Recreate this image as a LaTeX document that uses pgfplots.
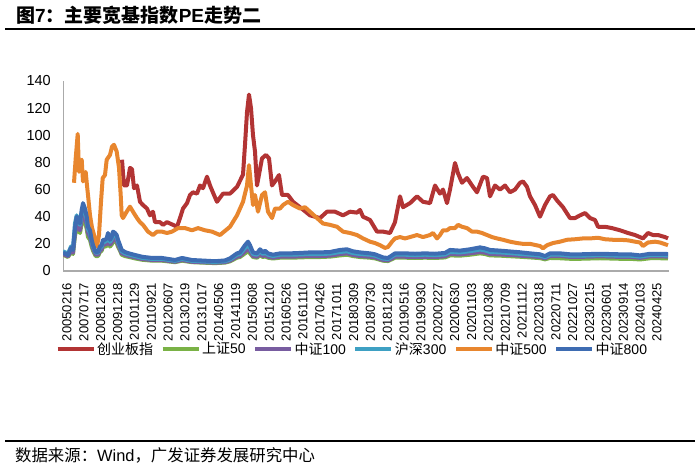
\documentclass[border=0pt]{standalone}
\usepackage{fontspec}
\setmainfont{Liberation Sans}
\newfontfamily\cjk{Noto Sans CJK SC}
\usepackage{pgfplots}
\pgfplotsset{compat=1.18}

\definecolor{cRed}{RGB}{178,52,52}
\definecolor{cGreen}{RGB}{122,178,70}
\definecolor{cPurple}{RGB}{120,92,160}
\definecolor{cTeal}{RGB}{62,160,195}
\definecolor{cOrange}{RGB}{232,134,46}
\definecolor{cBlue}{RGB}{62,108,178}
\definecolor{cAxis}{RGB}{170,170,170}

\begin{document}
\begin{tikzpicture}
\useasboundingbox (0bp,0bp) rectangle (700bp,471bp);
\node[anchor=west, inner sep=0pt, font=\fontsize{19bp}{21bp}\selectfont\bfseries] at (16bp,455.5bp) {{\cjk 图}7{\cjk ：主要宽基指数}PE{\cjk 走势二}};
\draw[line width=1.6bp] (5bp,442bp) -- (695bp,442bp);
\draw[line width=1.6bp] (5bp,30bp) -- (695bp,30bp);
\node[anchor=west, inner sep=0pt, font=\fontsize{16.4bp}{18bp}\selectfont] at (15bp,16bp) {{\cjk 数据来源：}Wind{\cjk ，广发证券发展研究中心}};

\begin{axis}[
  at={(63bp,200bp)}, anchor=south west, scale only axis,
  width=606bp, height=190bp,
  xmin=63, xmax=669, ymin=0, ymax=140,
  ytick={0,20,...,140},
  xtick={67,83.86,100.71,117.57,134.43,151.29,168.14,185,201.86,218.71,235.57,252.43,269.29,286.14,303,319.86,336.71,353.57,370.43,387.29,404.14,421,437.86,454.71,471.57,488.43,505.29,522.14,539,555.86,572.71,589.57,606.43,623.29,640.14,657},
  xticklabels={20050216,20070717,20081208,20091218,20101129,20110921,20120607,20130219,20131017,20140506,20141119,20150608,20151210,20160526,20161110,20170426,20171011,20180309,20180730,20181218,20190516,20190930,20200227,20200630,20201103,20210308,20210709,20211112,20220318,20220711,20221027,20230215,20230601,20230914,20240103,20240425},
  axis x line*=bottom, axis y line*=left,
  x axis line style={cAxis, line width=1.6bp, -},
  y axis line style={cAxis, line width=1bp, -},
  major tick length=0pt,
  tick style={draw=none},
  /pgf/number format/assume math mode=true,
  tick label style={inner sep=0pt},
  xticklabel style={rotate=90, anchor=east, font=\fontsize{13bp}{15bp}\selectfont},
  yticklabel style={anchor=east, font=\fontsize{14.5bp}{16bp}\selectfont},
  xticklabel shift=12bp,
  yticklabel shift=12bp,
  legend style={at={(0.477,-0.41)}, anchor=center, draw=none, fill=none,
    font=\fontsize{14bp}{16bp}\selectfont, inner sep=0pt,
    nodes={inner sep=1.5bp},
    /tikz/every even column/.append style={column sep=6bp}},
  legend columns=6,
  legend image code/.code={\draw[#1, line width=4bp] (0bp,0bp) -- (36bp,0bp);},
  every axis plot/.append style={line width=4bp, line join=round},
]
\addplot[cRed] coordinates {
(122,82) (124,63) (127,63) (130,76) (132,75) (134,61) (137,63) (140,51) (143,48.6) (147,46) (150,41) (153,43.7) (155,36) (160,36) (163,34) (167,36) (170,35) (173,34) (177,32.6) (180,39) (183,46) (187,50) (190,56) (193,58) (197,57) (200,63) (203,61) (207,69.5) (210,63) (214,56) (217,51) (223,57) (230,57) (237,62) (243,71) (245,93) (247,117) (249,130) (251,120) (253,100) (255,88) (257,63) (259,71) (262,83) (266,85.5) (269,83) (272,63) (275,66) (279,70.7) (282,56) (288,56) (293,51) (300,47) (305,44) (310,41) (315,40) (320,39) (327,43.7) (335,43.7) (343,41) (350,43.7) (357,43) (360,45) (363,40) (370,37.6) (377,29) (383,29) (390,28) (395,36) (400,55) (403,47) (410,50) (417,55) (423,51) (430,50) (435,63) (440,57) (443,60) (447,50) (450,60) (455,79.6) (458,72) (462,65) (467,68.5) (473,62) (477,58) (483,69.5) (487,68.5) (490,55) (495,63) (500,60) (505,63) (510,58) (515,60) (520,65) (523,66) (527,62) (530,55) (535,48.6) (540,40) (545,48.6) (550,55) (553,56) (557,52) (563,47) (570,39) (575,39) (580,41) (585,42.7) (590,39) (595,37.6) (598,32.6) (605,32.6) (612,31.6) (620,30) (628,28) (635,26.5) (643,24) (648,28) (653,26.5) (658,26.5) (665,25) (668,24)
};
\addlegendentry{{\cjk 创业板指}}
\addplot[cGreen] coordinates {
(63,12) (66,11) (68,10.3) (71,14) (73,12.5) (75,26) (76.7,32) (78,30) (80,28) (81.7,35) (83,39) (85,36) (86.7,31) (88,25) (90,23) (91.7,18) (93,15) (95.7,11) (98,11) (100,14) (101.7,15) (103,18) (105,18) (106.7,18.5) (108,21.5) (110,18) (111.7,19.5) (113,22) (115,21.5) (116.7,20.5) (118,18) (120,15) (121.7,12) (125,11) (128,10.5) (135,9.3) (142,8.3) (152,7.6) (162,7.6) (175,6.5) (182,7.6) (192,6.5) (205,6.1) (215,5.8) (225,6.2) (230,7.1) (237,9.8) (240,10.3) (245,13) (248,14.5) (250,13) (253,10.3) (257,9.8) (260,11.5) (263,10.3) (265,10.8) (268,9.8) (273,9.2) (280,9.8) (290,9.8) (300,10) (310,10.3) (320,10.3) (330,10.6) (340,11.5) (347,12) (353,11) (360,10.3) (370,9.8) (375,9.3) (383,7.6) (388,7.3) (395,9.8) (405,9.8) (415,9.6) (425,9.8) (435,9.6) (445,10) (450,11.5) (460,11.3) (470,12) (480,13) (485,12.5) (490,11.5) (500,11.3) (510,10.9) (520,10.5) (530,10) (540,9.5) (545,8.6) (550,9.6) (560,9.4) (570,9) (580,9) (590,9.2) (600,9.4) (610,9.2) (620,9) (630,9) (640,8.5) (650,9.4) (660,9.4) (668,9.3)
};
\addlegendentry{{\cjk 上证}50}
\addplot[cPurple] coordinates {
(63,12.5) (66,11.5) (68,10.8) (71,15) (73,13.5) (75,28) (76.7,35) (78,32) (80,30) (81.7,38) (83,42) (85,39) (86.7,34) (88,28) (90,25) (91.7,20) (93,16.5) (95.7,12) (98,12) (100,15) (101.7,16) (103,19.5) (105,19.5) (106.7,20) (108,23.5) (110,19.5) (111.7,21) (113,24) (115,23) (116.7,22) (118,19.5) (120,16) (121.7,13) (125,12) (128,11.2) (135,10) (142,8.8) (152,8.1) (162,8.1) (175,6.8) (182,8.1) (192,6.8) (205,6.4) (215,6.1) (225,6.5) (230,7.6) (237,10.5) (240,11) (245,14.5) (248,16) (250,14.5) (253,11) (257,10.5) (260,12.5) (263,11) (265,11.8) (268,10.5) (273,9.8) (280,10.5) (290,10.5) (300,10.8) (310,11) (320,11) (330,11.3) (340,12.5) (347,13) (353,11.8) (360,11) (370,10.5) (375,10) (383,8.1) (388,7.8) (395,10.5) (405,10.5) (415,10.3) (425,10.5) (435,10.3) (445,10.8) (450,12.5) (460,12.2) (470,13) (480,14) (485,13.5) (490,12.5) (500,12.2) (510,11.8) (520,11.3) (530,10.8) (540,10.3) (545,9.3) (550,11) (560,11) (570,10.4) (580,10.4) (590,10.6) (600,10.8) (610,10.6) (620,10.4) (630,10.4) (640,9.7) (650,10.8) (660,10.8) (668,10.6)
};
\addlegendentry{{\cjk 中证}100}
\addplot[cTeal] coordinates {
(63,14.5) (66,13.5) (68,12.8) (71,18) (73,17) (75,35) (76.7,41) (78,37) (80,34) (81.7,43) (83,47) (85,44) (86.7,38) (88,31) (90,28) (91.7,22) (93,18) (95.7,13.5) (98,13.5) (100,17) (101.7,18) (103,21.5) (105,21.5) (106.7,22.5) (108,26) (110,21.5) (111.7,23.5) (113,27) (115,26) (116.7,25) (118,21.5) (120,18) (121.7,14.5) (125,13) (128,12.3) (135,11) (142,9.7) (152,8.9) (162,8.9) (175,7.5) (182,8.9) (192,7.5) (205,7) (215,6.7) (225,7.2) (230,8.5) (237,12) (240,12.5) (245,17) (248,19) (250,17) (253,12.5) (257,12) (260,14.5) (263,12.5) (265,13.5) (268,12) (273,11) (280,12) (290,12) (300,12.2) (310,12.5) (320,12.5) (330,12.8) (340,14) (347,14.5) (353,13.2) (360,12.5) (370,12) (375,11.3) (383,9.2) (388,8.8) (395,12) (405,12) (415,11.7) (425,12) (435,11.7) (445,12.2) (450,14) (460,13.7) (470,14.6) (480,15.8) (485,15.2) (490,14) (500,13.7) (510,13.2) (520,12.6) (530,12) (540,11.3) (545,10.2) (550,12) (560,12) (570,11.3) (580,11.3) (590,11.5) (600,11.7) (610,11.5) (620,11.3) (630,11.3) (640,10.6) (650,11.7) (660,11.7) (668,11.5)
};
\addlegendentry{{\cjk 沪深}300}
\addplot[cOrange] coordinates {
(74,65) (75.7,83) (77.7,101) (79,73) (80,80) (81.7,82) (83,66) (85.7,73) (87,63) (88,56) (90,41) (92,32) (95,24) (97,18) (99,26.5) (101,51) (102.7,68.5) (105,70.7) (106.7,82) (110,85.5) (112,91.6) (114,93) (116.7,88) (119,76) (120.7,56) (121.7,41) (123,39) (126.7,43.7) (130,47.4) (133,43.7) (137,39) (140,36) (143,34) (148,29) (153,26.5) (157,29) (162,29) (167,28) (172,29) (178,31.6) (185,31.6) (192,30) (198,31.6) (205,30) (212,29) (220,26.5) (230,32.6) (237,41) (243,51) (247,63) (249,78) (251,63) (253,48.6) (255,56) (258,43.7) (262,56) (265,58) (268,43.7) (272,39) (275,46) (280,46) (283,48.6) (288,51) (293,48.6) (300,46) (305,47) (310,43.7) (317,39) (323,35) (330,34) (337,32.6) (343,29) (350,28) (357,26.5) (363,24) (370,21.6) (375,20.6) (380,19) (385,17) (388,17.7) (392,21.6) (395,24) (400,25) (405,24) (410,25) (417,26.5) (423,25) (430,26.5) (433,28) (437,24) (440,26.5) (443,30) (447,30) (450,31.6) (455,31.6) (458,34) (462,32.6) (467,31.6) (472,29) (477,29) (482,28) (487,26.5) (492,25) (497,24) (503,23) (510,21.6) (517,20.6) (523,20) (530,20) (540,18.4) (543,16.7) (547,19) (553,20.6) (560,21.6) (567,23) (575,23.4) (583,24) (590,24) (598,24.5) (605,23.4) (613,23) (620,23) (628,22.6) (635,21.6) (640,21) (643,18.4) (648,21) (655,21.6) (660,21) (668,19)
};
\addlegendentry{{\cjk 中证}500}
\addplot[cBlue] coordinates {
(63,13.5) (66,12.5) (68,11.8) (71,17) (73,15.5) (75,32) (76.7,40) (78,37.6) (80,35) (81.7,45) (83,50) (85,46) (86.7,40) (88,32.6) (90,30) (91.7,23) (93,19) (95.7,14) (98,14) (100,18) (101.7,19) (103,23) (105,23) (106.7,24) (108,28) (110,23) (111.7,25) (113,29) (115,28) (116.7,26.5) (118,23) (120,19) (121.7,15.5) (125,14) (128,13.2) (135,11.8) (142,10.5) (152,9.6) (162,9.6) (175,8.1) (182,9.6) (192,8.1) (205,7.6) (215,7.2) (225,7.8) (230,9.3) (237,13) (240,13.7) (245,19) (248,21.6) (250,19) (253,13.7) (257,13) (260,16) (263,13.7) (265,15) (268,13) (273,12) (280,13) (290,13) (300,13.3) (310,13.7) (320,13.7) (330,14) (340,15.5) (347,16) (353,14.5) (360,13.7) (370,13) (375,12.3) (383,10) (388,9.6) (395,13) (405,13) (415,12.7) (425,13) (435,12.7) (445,13.3) (450,15.5) (460,15) (470,16) (480,17.4) (485,16.7) (490,15.5) (500,15) (510,14.4) (520,13.8) (530,13) (540,12.3) (545,11) (550,13) (560,13) (570,12.3) (580,12.3) (590,12.5) (600,12.7) (610,12.5) (620,12.3) (630,12.3) (640,11.5) (650,12.7) (660,12.7) (668,12.5)
};
\addlegendentry{{\cjk 中证}800}
\end{axis}
\end{tikzpicture}
\end{document}
